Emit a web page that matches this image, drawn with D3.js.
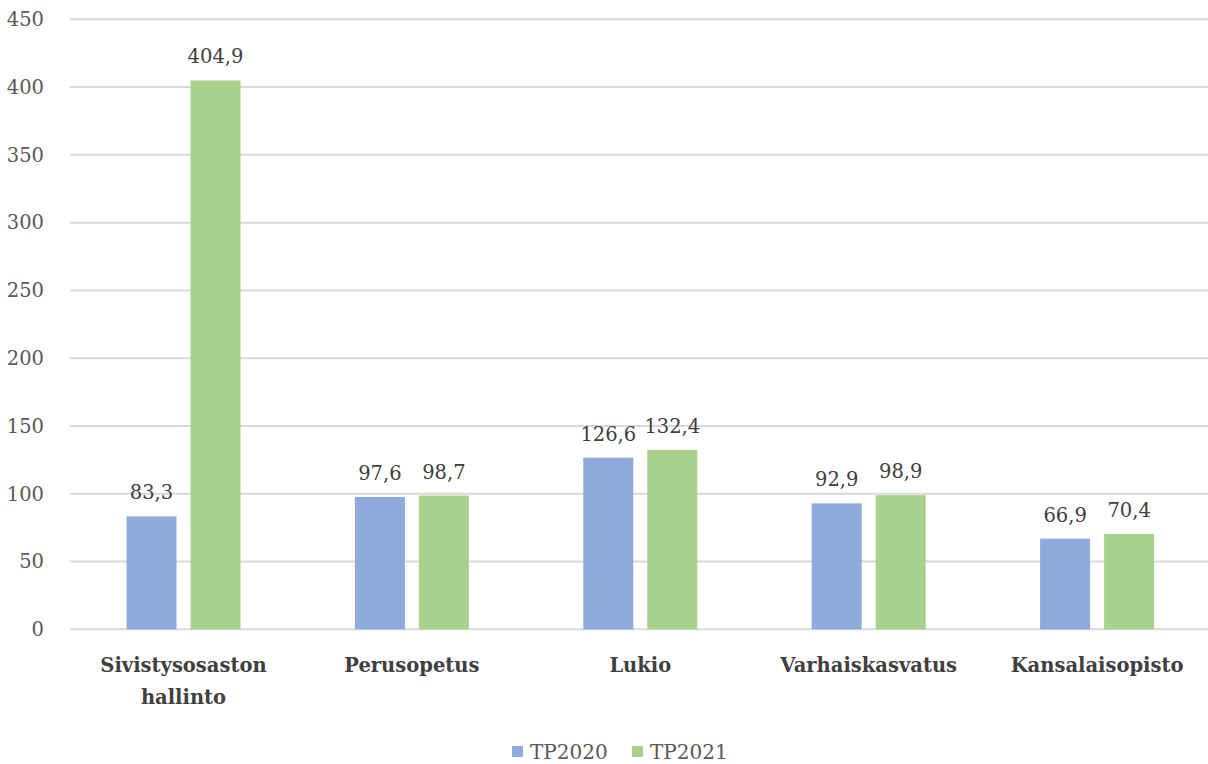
<!DOCTYPE html>
<html><head><meta charset="utf-8">
<script src="https://cdn.jsdelivr.net/npm/d3@7/dist/d3.min.js"></script>
<style>body{margin:0;background:#fff}</style>
</head><body><svg id="c" width="1208" height="764"></svg>
<script>
const categories = [["Sivistysosaston","hallinto"],["Perusopetus"],["Lukio"],["Varhaiskasvatus"],["Kansalaisopisto"]];
const seriesNames = ["TP2020","TP2021"];
const tp2020 = [83.3, 97.6, 126.6, 92.9, 66.9];
const tp2021 = [404.9, 98.7, 132.4, 98.9, 70.4];
const yTicks = [0,50,100,150,200,250,300,350,400,450];
const colors = ["#8faadc","#a9d18e"];

(function(){
const svg = d3.select("#c");
const font = "DejaVu Serif, serif";
const mLeft = 69.3, mRight = 1211.3, mTop = 19.3, mBottom = 629.3;
const x = d3.scaleBand().domain(d3.range(categories.length)).range([mLeft,mRight]);
const y = d3.scaleLinear().domain([0,450]).range([mBottom,mTop]);
const barW = 50, gap = 14;
const fmt = v => v.toFixed(1).replace(".", ",");

svg.append("g").selectAll("line").data(yTicks).join("line")
  .attr("x1",70).attr("x2",1208).attr("y1",d=>y(d)).attr("y2",d=>y(d))
  .attr("stroke","#d9d9d9").attr("stroke-width",2);
svg.append("g").selectAll("text").data(yTicks).join("text")
  .attr("x",44).attr("y",d=>y(d)).attr("dy","0.35em").attr("text-anchor","end")
  .attr("font-family",font).attr("font-size",19.5).attr("fill","#595959").text(d=>d);

const series = [tp2020, tp2021];
series.forEach((vals,si)=>{
  const g = svg.append("g");
  const bx = i => x(i)+x.bandwidth()/2 + (si===0 ? -gap/2-barW : gap/2);
  g.selectAll("rect").data(vals).join("rect")
    .attr("x",(d,i)=>bx(i)).attr("width",barW)
    .attr("y",d=>y(d)).attr("height",d=>y(0)-y(d))
    .attr("fill",colors[si]);
  g.selectAll("text").data(vals).join("text")
    .attr("x",(d,i)=>bx(i)+barW/2).attr("y",d=>y(d)-17)
    .attr("text-anchor","middle").attr("font-family",font).attr("font-size",19.5)
    .attr("fill","#404040").text(d=>fmt(d));
});

const cg = svg.append("g");
categories.forEach((lines,i)=>{
  const t = cg.append("text").attr("x",x(i)+x.bandwidth()/2).attr("y",672)
    .attr("text-anchor","middle").attr("font-family",font).attr("font-size",19.5)
    .attr("font-weight","bold").attr("fill","#404040");
  lines.forEach((l,j)=>t.append("tspan").attr("x",x(i)+x.bandwidth()/2).attr("dy",j?32:0).text(l));
});

const leg = svg.append("g");
const legX = [512, 632];
seriesNames.forEach((n,i)=>{
  leg.append("rect").attr("x",legX[i]).attr("y",746).attr("width",11).attr("height",11).attr("fill",colors[i]);
  leg.append("text").attr("x",legX[i]+18).attr("y",752).attr("dy","0.35em")
    .attr("font-family",font).attr("font-size",20).attr("fill","#595959").text(n);
});
})();
</script></body></html>
